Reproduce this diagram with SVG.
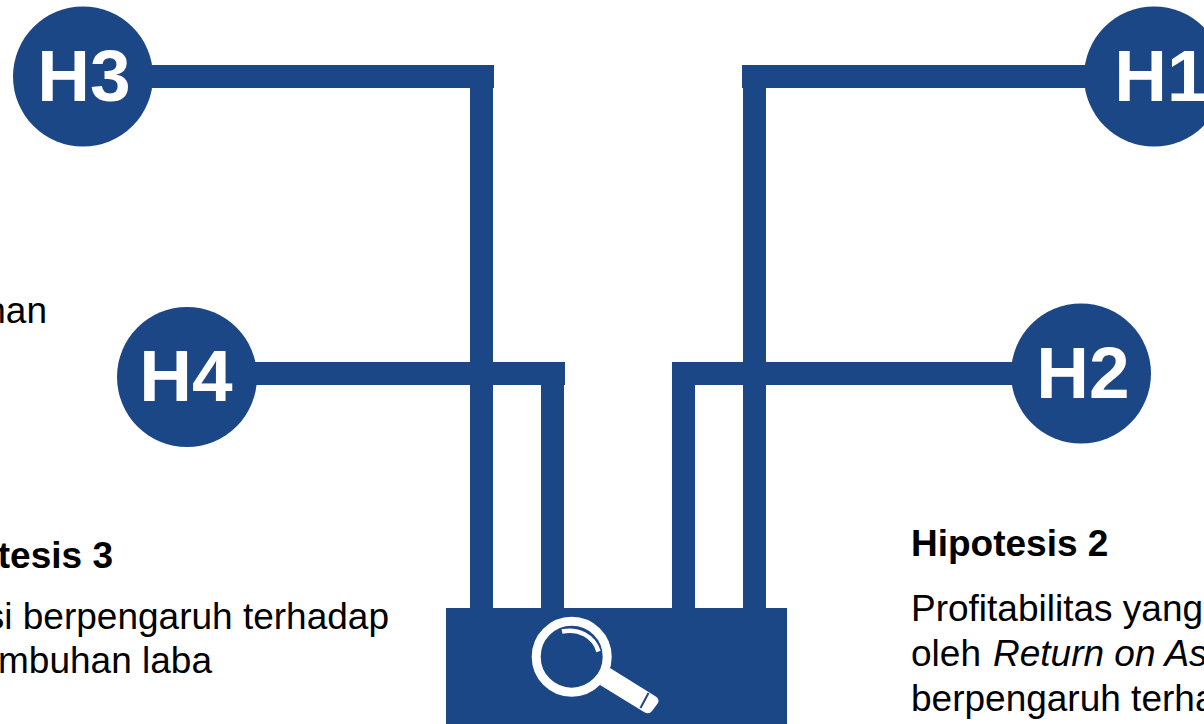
<svg xmlns="http://www.w3.org/2000/svg" width="1204" height="724" viewBox="0 0 1204 724">
<style>
.bar{fill:#1b4786}
.node{fill:#1b4786}
.lab{font:bold 73px "Liberation Sans",Arial,sans-serif;fill:#fff;text-anchor:middle}
.h{font:bold 37px "Liberation Sans",Arial,sans-serif;fill:#000}
.t{font:37px "Liberation Sans",Arial,sans-serif;fill:#000}
.i{font-style:italic}
.e{text-anchor:end}
</style>
<rect width="1204" height="724" fill="#fff"/>
<g id="connectors">
<rect class="bar" x="140" y="65" width="354" height="23"/>
<rect class="bar" x="470" y="65" width="23" height="545"/>
<rect class="bar" x="742" y="65" width="350" height="23"/>
<rect class="bar" x="743" y="65" width="23" height="545"/>
<rect class="bar" x="245" y="362" width="320" height="23"/>
<rect class="bar" x="541" y="362" width="23" height="248"/>
<rect class="bar" x="672" y="362" width="350" height="23"/>
<rect class="bar" x="672" y="362" width="23" height="248"/>
</g>
<g id="H3"><circle class="node" cx="83" cy="76.500" r="70"/><text class="lab" x="84" y="101">H3</text></g>
<g id="H1"><circle class="node" cx="1154" cy="76.500" r="70"/><text class="lab" x="1161" y="101">H1</text></g>
<g id="H4"><circle class="node" cx="187" cy="377" r="70"/><text class="lab" x="186" y="401">H4</text></g>
<g id="H2"><circle class="node" cx="1081" cy="373.500" r="70"/><text class="lab" x="1083" y="398">H2</text></g>
<g id="magnifier">
<rect class="bar" x="446" y="608" width="341" height="116"/>
<circle cx="571.700" cy="656.700" r="35.500" fill="none" stroke="#fff" stroke-width="9"/>
<path d="M562 631.500C578 628 594 636 598.500 651.500" fill="none" stroke="#fff" stroke-width="4.500"/>
<path d="M610 668L655 696Q660 699 658 703L652 711Q649 715 644 712L600 685Z" fill="#fff"/>
<path d="M648.500 693L640.500 708" stroke="#1b4786" stroke-width="2" fill="none"/>
</g>
<g id="text-left">
<text class="t e" x="47" y="323">nan</text>
<text class="h e" x="113" y="568">tesis 3</text>
<text class="t e" x="389" y="629">si berpengaruh terhadap</text>
<text class="t e" x="212" y="673">mbuhan laba</text>
</g>
<g id="text-right">
<text class="h" x="911" y="556">Hipotesis 2</text>
<text class="t" x="911" y="621">Profitabilitas yang</text>
<text class="t" x="911" y="666">oleh</text>
<text class="t i" x="993" y="666">Return on As</text>
<text class="t" x="911" y="711">berpengaruh terha</text>
</g>
</svg>
